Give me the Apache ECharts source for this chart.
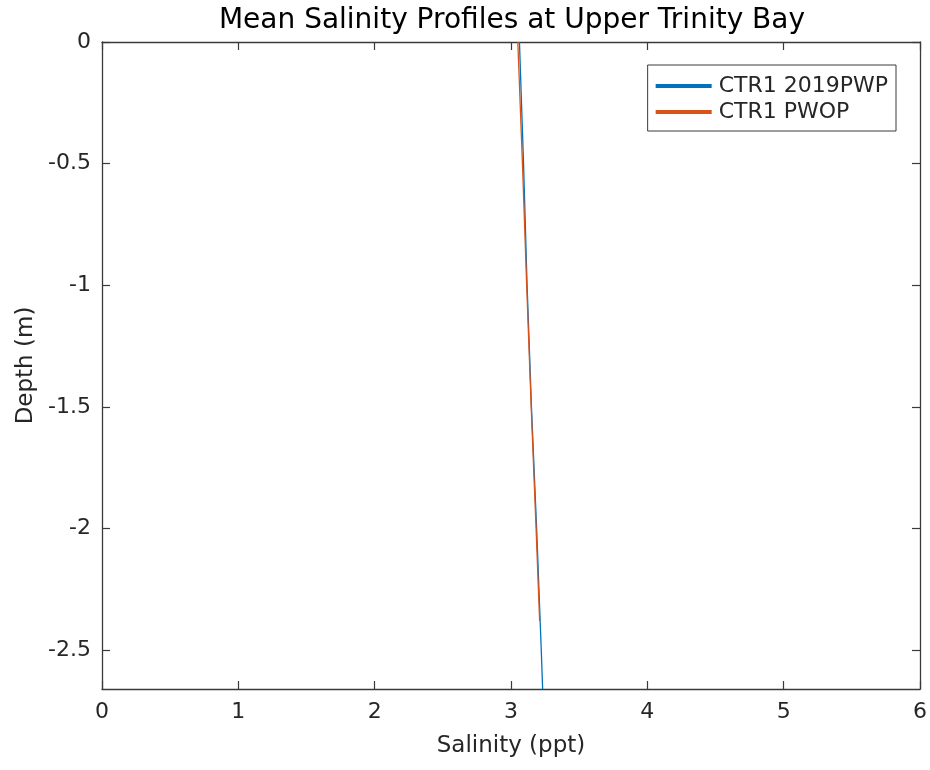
<!DOCTYPE html>
<html>
<head>
<meta charset="utf-8">
<script src="https://cdn.jsdelivr.net/npm/echarts@6/dist/echarts.min.js"></script>
<style>
html,body{margin:0;padding:0;background:#fff;}
#chart{width:930px;height:770px;}
</style>
</head>
<body>
<div id="chart"></div>
<script>
// Data
const seriesNames = ['CTR1 2019PWP', 'CTR1 PWOP'];
const depthPWP = [0, -0.5, -1, -1.5, -2, -2.5, -2.66];
const salinityPWP = [3.062, 3.092, 3.118, 3.150, 3.188, 3.222, 3.232];
const depthPWOP = [0, -0.5, -1, -1.5, -2, -2.38];
const salinityPWOP = [3.050, 3.084, 3.115, 3.148, 3.184, 3.210];
const xTicks = [0, 1, 2, 3, 4, 5, 6];
const yTicks = [0, -0.5, -1, -1.5, -2, -2.5];

const FONT = 'DejaVu Sans';
const AX = '#3a3a3a';
const TXT = '#262626';

function pairs(xs, ys) { return xs.map((x, i) => [x, ys[i]]); }

const chart = echarts.init(document.getElementById('chart'), null, {renderer: 'canvas'});

const xBase = {
  type: 'value', min: xTicks[0], max: xTicks[xTicks.length - 1], interval: 1,
  splitLine: {show: false},
  axisLine: {show: true, onZero: false, lineStyle: {color: AX, width: 1.3}},
  axisTick: {show: true, inside: true, length: 8, lineStyle: {color: AX, width: 1.2}}
};
const yBase = {
  type: 'value', min: -2.66, max: 0, minInterval: 0.5, maxInterval: 0.5, splitNumber: 5,
  splitLine: {show: false},
  axisLine: {show: true, onZero: false, lineStyle: {color: AX, width: 1.3}},
  axisTick: {show: true, inside: true, length: 8, lineStyle: {color: AX, width: 1.2},
    customValues: yTicks}
};

chart.setOption({
  backgroundColor: '#ffffff',
  animation: false,
  title: {
    text: 'Mean Salinity Profiles at Upper Trinity Bay',
    left: 507, top: 2, textAlign: 'center',
    textStyle: {fontFamily: FONT, fontSize: 28, fontWeight: 'normal', color: '#000'}
  },
  legend: {
    orient: 'vertical', right: 34, top: 65,
    data: seriesNames,
    icon: 'rect', itemWidth: 56, itemHeight: 4, itemGap: 4,
    padding: [10, 8, 8, 8],
    borderColor: '#3a3a3a', borderWidth: 1, backgroundColor: '#fff',
    textStyle: {fontFamily: FONT, fontSize: 22, color: TXT, padding: [0, 0, 0, 2]}
  },
  grid: {left: 102, right: 10, top: 42, bottom: 81, containLabel: false},
  xAxis: [
    Object.assign({}, xBase, {
      position: 'bottom',
      name: 'Salinity (ppt)', nameLocation: 'middle', nameGap: 46,
      nameTextStyle: {fontFamily: FONT, fontSize: 23, color: TXT},
      axisLabel: {fontFamily: FONT, fontSize: 22, color: TXT, margin: 12}
    }),
    Object.assign({}, xBase, {position: 'top', axisLabel: {show: false}})
  ],
  yAxis: [
    Object.assign({}, yBase, {
      position: 'left',
      name: 'Depth (m)', nameLocation: 'middle', nameGap: 64, nameRotate: 90,
      nameTextStyle: {fontFamily: FONT, fontSize: 23, color: TXT},
      axisLabel: {fontFamily: FONT, fontSize: 22, color: TXT, margin: 11,
        customValues: yTicks}
    }),
    Object.assign({}, yBase, {position: 'right', axisLabel: {show: false}})
  ],
  series: [
    {
      name: seriesNames[0], type: 'line', data: pairs(salinityPWP, depthPWP),
      showSymbol: false, symbol: 'none', color: '#0072BD',
      lineStyle: {width: 1.3, color: '#0072BD'}
    },
    {
      name: seriesNames[1], type: 'line', data: pairs(salinityPWOP, depthPWOP),
      showSymbol: false, symbol: 'none', color: '#D95319',
      lineStyle: {width: 1.3, color: '#D95319'}
    }
  ]
});
</script>
</body>
</html>
